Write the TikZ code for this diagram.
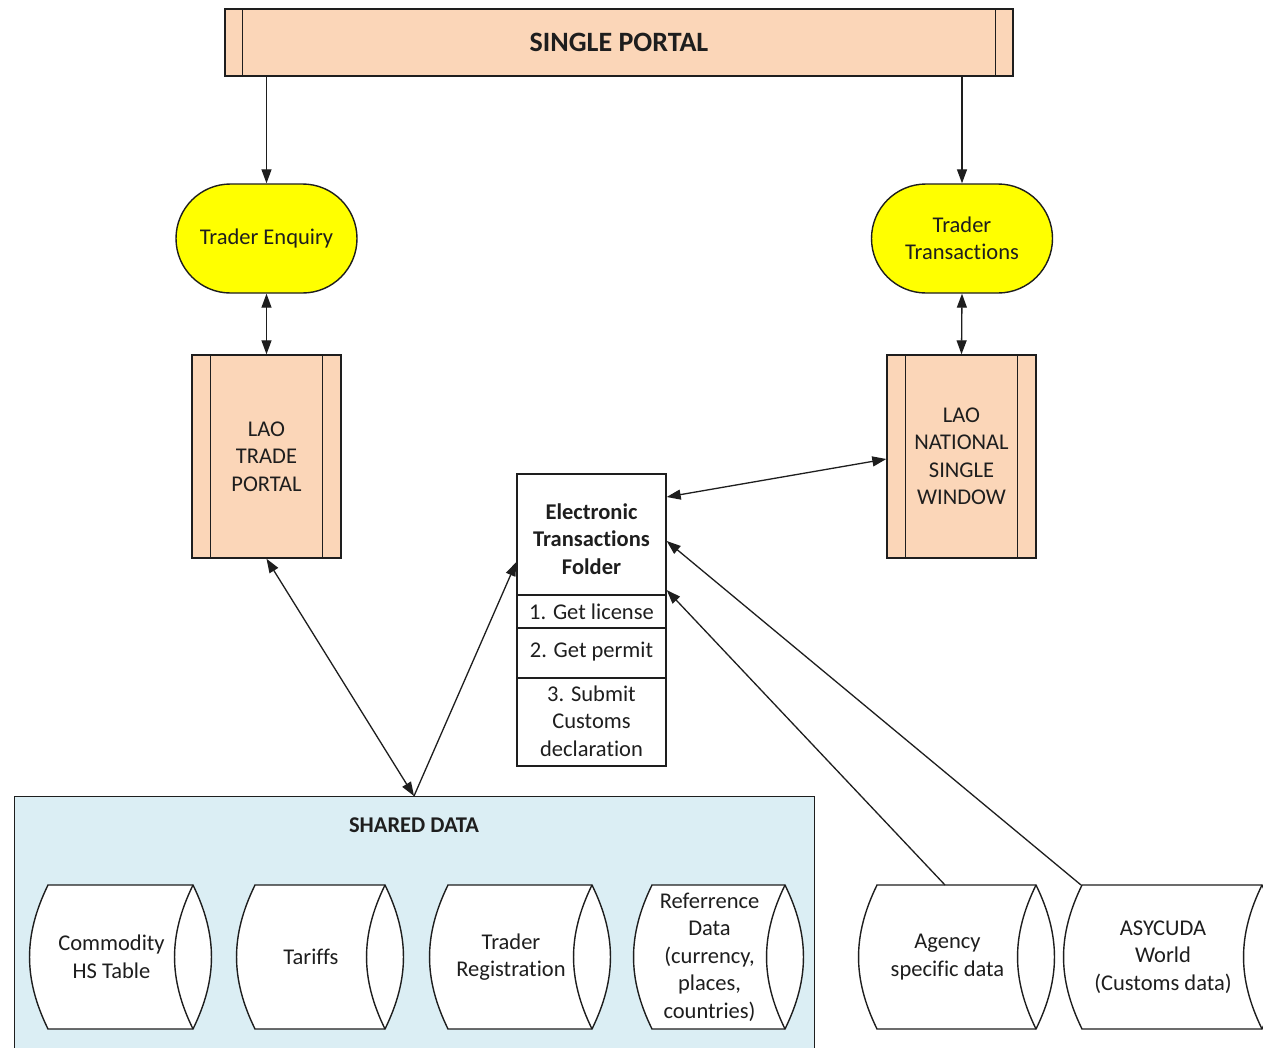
\documentclass[tikz,border=0pt]{standalone}
\usepackage{fontspec}
\setmainfont{Carlito}[Ligatures=NoCommon]
\usetikzlibrary{arrows.meta,shapes.misc,calc}
\definecolor{peach}{RGB}{251,214,184}
\definecolor{lblue}{RGB}{219,238,244}
\definecolor{ylw}{RGB}{255,255,0}
\definecolor{ink}{RGB}{30,30,30}
\newcommand\datacyl[4]{%
  \fill[white] (#2,885) -- (#3,885) to[bend left=26] (#3,1029) -- (#2,1029) to[bend left=26] cycle;
  \draw[shapeline] (#2,885) -- (#3,885) to[bend left=26] (#3,1029) -- (#2,1029) to[bend left=26] cycle;
  \draw[shapeline] (#3,885) to[bend right=26] (#3,1029);
  \node[txt, align=center] (#1) at ({(#2+#3)/2-9},957) {#4};
}
\begin{document}
\begin{tikzpicture}[x=1pt,y=-1pt,
  font=\fontsize{22.5}{27.5}\selectfont,
  shapeline/.style={draw=ink, line width=1.4pt},
  txt/.style={text=ink, inner sep=0pt},
  proc/.style={shapeline, fill=peach, text=ink, align=center, inner sep=0pt},
  term/.style={shapeline, fill=ylw, rounded rectangle, text=ink, align=center, inner sep=0pt, minimum width=181, minimum height=109},
  arr/.style={draw=ink, line width=1.3pt, -{Triangle[length=14pt,width=10pt]}},
  dblarr/.style={draw=ink, line width=1.3pt, {Triangle[length=14pt,width=10pt]}-{Triangle[length=14pt,width=10pt]}},
  bold/.style={font=\fontsize{22.5}{27.5}\selectfont\bfseries}
]
\useasboundingbox (0,0) rectangle (1263,1047);
\clip (0,0) rectangle (1263,1047);
\fill[white] (0,0) rectangle (1263,1047);

% Single portal
\node[proc, minimum width=788, minimum height=67, font=\fontsize{28}{32}\selectfont\bfseries] (portal) at (619,42.5) {SINGLE PORTAL};
\draw[shapeline] ([xshift=18pt]portal.north west) -- ([xshift=18pt]portal.south west);
\draw[shapeline] ([xshift=-18pt]portal.north east) -- ([xshift=-18pt]portal.south east);

% Terminators
\node[term] (te) at (266.5,238.5) {Trader Enquiry};
\node[term] (tt) at (962,238.5) {Trader\\Transactions};

% Portals
\node[proc, minimum width=149, minimum height=203] (ltp) at (266.5,456.5) {LAO\\TRADE\\PORTAL};
\draw[shapeline] ([xshift=19pt]ltp.north west) -- ([xshift=19pt]ltp.south west);
\draw[shapeline] ([xshift=-19pt]ltp.north east) -- ([xshift=-19pt]ltp.south east);

\node[proc, minimum width=149, minimum height=203] (lnsw) at (961.5,456.5) {LAO\\NATIONAL\\SINGLE\\WINDOW};
\draw[shapeline] ([xshift=19pt]lnsw.north west) -- ([xshift=19pt]lnsw.south west);
\draw[shapeline] ([xshift=-19pt]lnsw.north east) -- ([xshift=-19pt]lnsw.south east);

% Electronic transactions folder
\node[shapeline, fill=white, minimum width=149, minimum height=292, inner sep=0pt] (etf) at (591.5,620) {};
\node[txt, bold, align=center] (etftitle) at (591.5,539) {Electronic\\Transactions\\Folder};
\draw[shapeline] (517,595) -- (666,595);
\draw[shapeline] (517,628) -- (666,628);
\draw[shapeline] (517,678) -- (666,678);
\node[txt] (step1) at (591.5,612) {1. Get license};
\node[txt] (step2) at (591.5,652) {2. Get permit};
\node[txt, align=center] (step3) at (591.5,721) {3. Submit\\Customs\\declaration};

% Shared data
\node[shapeline, fill=lblue, minimum width=800, minimum height=256, anchor=north west, inner sep=0pt] (shared) at (14,796) {};
\node[txt, bold] (sdlabel) at (414,825) {SHARED DATA};

\datacyl{commodity}{48}{193}{Commodity\\HS Table}
\datacyl{tariffs}{255}{385}{Tariffs}
\datacyl{tradreg}{448}{592}{Trader\\Registration}
\datacyl{refdata}{652}{785}{Referrence\\Data\\(currency,\\places,\\countries)}
\datacyl{agency}{877}{1036}{Agency\\specific data}
\datacyl{asycuda}{1082}{1262}{ASYCUDA\\World\\(Customs data)}

% Connectors
\coordinate (sdtop) at (414,796);
\coordinate (agtop) at (945,885);
\coordinate (astop) at (1081,885);
\draw[arr] (te.north |- portal.south) -- (te.north);
\draw[arr] (tt.north |- portal.south) -- (tt.north);
\draw[dblarr] (te.south) -- (ltp.north);
\draw[dblarr] (tt.south) -- (lnsw.north);
\draw[dblarr] ([yshift=123pt]etf.east) -- ([yshift=-2.5pt]lnsw.west);
\draw[dblarr] (ltp.south) -- (sdtop);
\draw[arr] (sdtop) -- ([yshift=58pt]etf.west);
\draw[arr] (agtop) -- ([yshift=30pt]etf.east);
\draw[arr] (astop) -- ([yshift=79pt]etf.east);
\end{tikzpicture}
\end{document}
